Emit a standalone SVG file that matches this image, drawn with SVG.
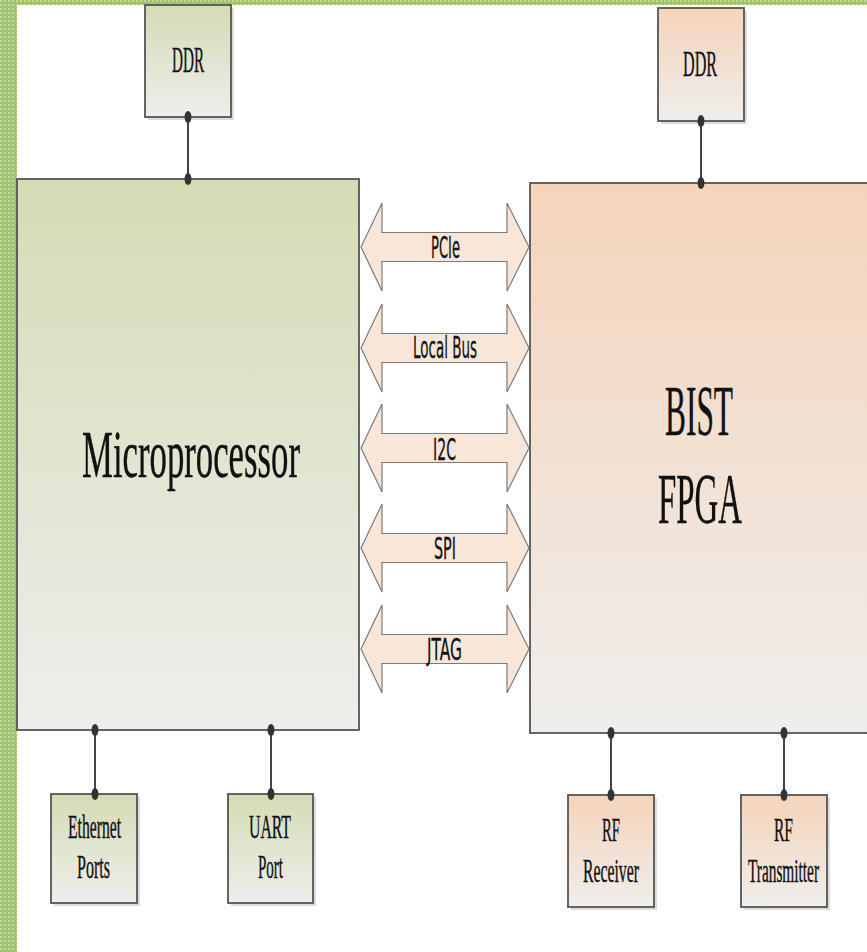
<svg xmlns="http://www.w3.org/2000/svg" width="867" height="952" viewBox="0 0 867 952">
<style>
.box{stroke:#555;stroke-width:1.8}
.shadow{fill:#dcdcdc}
.link{stroke:#444;stroke-width:2;fill:none}
.dot{fill:#333}
.bus{fill:#f8e6d9;stroke:#7a7a7a;stroke-width:1.2}
.serif{font-family:"Liberation Serif","Times New Roman",serif;fill:#111;stroke:#111;stroke-width:0.4}
.sans{font-family:"DejaVu Sans","Liberation Sans",sans-serif;fill:#111;stroke:#111;stroke-width:0.3;font-size:31px}
</style>
<defs>
<linearGradient id="gGreen" x1="0" y1="0" x2="0" y2="1">
<stop offset="0" stop-color="#d3dcb4"/>
<stop offset="1" stop-color="#eeeeec"/>
</linearGradient>
<linearGradient id="gPeach" x1="0" y1="0" x2="0" y2="1">
<stop offset="0" stop-color="#f5d4ba"/>
<stop offset="1" stop-color="#efeeec"/>
</linearGradient>
<pattern id="grid" width="4" height="4" patternUnits="userSpaceOnUse">
<rect width="4" height="4" fill="#a2c272"/>
<rect width="2" height="2" fill="#c0d89a"/>
</pattern>
</defs>
<rect width="867" height="952" fill="#ffffff"/>
<rect x="0" y="0" width="867" height="5" fill="url(#grid)"/>
<rect x="0" y="0" width="17" height="952" fill="url(#grid)"/>

<g id="ddr-left">
<rect class="shadow" x="148" y="8" width="86" height="112"/>
<rect class="box" x="145" y="5" width="86" height="112" fill="url(#gGreen)"/>
<text class="serif" x="172" y="72" font-size="35" textLength="32" lengthAdjust="spacingAndGlyphs">DDR</text>
</g>
<g id="microprocessor">
<rect class="box" x="17" y="179" width="342" height="551" fill="url(#gGreen)"/>
<text class="serif" x="82" y="477" font-size="67" textLength="218" lengthAdjust="spacingAndGlyphs">Microprocessor</text>
</g>
<g id="ddr-right">
<rect class="shadow" x="661" y="11" width="86" height="113"/>
<rect class="box" x="658" y="8" width="86" height="113" fill="url(#gPeach)"/>
<text class="serif" x="683" y="76" font-size="35" textLength="34" lengthAdjust="spacingAndGlyphs">DDR</text>
</g>
<g id="fpga">
<rect class="box" x="530" y="183" width="345" height="550" fill="url(#gPeach)"/>
<text class="serif" x="665" y="435" font-size="71" textLength="68" lengthAdjust="spacingAndGlyphs">BIST</text>
<text class="serif" x="658" y="523" font-size="72" textLength="84" lengthAdjust="spacingAndGlyphs">FPGA</text>
</g>
<g id="ethernet">
<rect class="shadow" x="54" y="797" width="86" height="109"/>
<rect class="box" x="51" y="794" width="86" height="109" fill="url(#gGreen)"/>
<text class="serif" x="68" y="838" font-size="33" textLength="53" lengthAdjust="spacingAndGlyphs">Ethernet</text>
<text class="serif" x="77" y="878" font-size="33" textLength="33" lengthAdjust="spacingAndGlyphs">Ports</text>
</g>
<g id="uart">
<rect class="shadow" x="231" y="797" width="85" height="109"/>
<rect class="box" x="228" y="794" width="85" height="109" fill="url(#gGreen)"/>
<text class="serif" x="249" y="838" font-size="33" textLength="42" lengthAdjust="spacingAndGlyphs">UART</text>
<text class="serif" x="258" y="878" font-size="33" textLength="25" lengthAdjust="spacingAndGlyphs">Port</text>
</g>
<g id="rf-receiver">
<rect class="shadow" x="571" y="798" width="86" height="112"/>
<rect class="box" x="568" y="795" width="86" height="112" fill="url(#gPeach)"/>
<text class="serif" x="602" y="841" font-size="33" textLength="18" lengthAdjust="spacingAndGlyphs">RF</text>
<text class="serif" x="583" y="882" font-size="33" textLength="56" lengthAdjust="spacingAndGlyphs">Receiver</text>
</g>
<g id="rf-transmitter">
<rect class="shadow" x="744" y="798" width="86" height="112"/>
<rect class="box" x="741" y="795" width="86" height="112" fill="url(#gPeach)"/>
<text class="serif" x="774" y="841" font-size="33" textLength="19" lengthAdjust="spacingAndGlyphs">RF</text>
<text class="serif" x="748" y="882" font-size="33" textLength="71" lengthAdjust="spacingAndGlyphs">Transmitter</text>
</g>

<g id="connectors">
<g id="links">
<line class="link" x1="188" y1="117" x2="188" y2="179"/>
<ellipse class="dot" cx="188" cy="117" rx="3.5" ry="6"/>
<ellipse class="dot" cx="188" cy="179" rx="3.5" ry="6"/>
<line class="link" x1="701" y1="121" x2="701" y2="183"/>
<ellipse class="dot" cx="701" cy="121" rx="3.5" ry="6"/>
<ellipse class="dot" cx="701" cy="183" rx="3.5" ry="6"/>
<line class="link" x1="95" y1="730" x2="95" y2="794"/>
<ellipse class="dot" cx="95" cy="730" rx="3.5" ry="6"/>
<ellipse class="dot" cx="95" cy="794" rx="3.5" ry="6"/>
<line class="link" x1="271" y1="730" x2="271" y2="794"/>
<ellipse class="dot" cx="271" cy="730" rx="3.5" ry="6"/>
<ellipse class="dot" cx="271" cy="794" rx="3.5" ry="6"/>
<line class="link" x1="611" y1="733" x2="611" y2="795"/>
<ellipse class="dot" cx="611" cy="733" rx="3.5" ry="6"/>
<ellipse class="dot" cx="611" cy="795" rx="3.5" ry="6"/>
<line class="link" x1="784" y1="733" x2="784" y2="795"/>
<ellipse class="dot" cx="784" cy="733" rx="3.5" ry="6"/>
<ellipse class="dot" cx="784" cy="795" rx="3.5" ry="6"/>
</g>
<g id="buses">
<g id="bus-pcie" transform="translate(0,247)">
<path class="bus" d="M361,0 L382,-44 L382,-14.5 L507,-14.5 L507,-44 L529,0 L507,44 L507,14.5 L382,14.5 L382,44 Z"/>
<text class="sans" x="431" y="11" textLength="29" lengthAdjust="spacingAndGlyphs">PCIe</text>
</g>
<g id="bus-localbus" transform="translate(0,348)">
<path class="bus" d="M361,0 L382,-44 L382,-14.5 L507,-14.5 L507,-44 L529,0 L507,44 L507,14.5 L382,14.5 L382,44 Z"/>
<text class="sans" x="413" y="10" font-size="29" textLength="64" lengthAdjust="spacingAndGlyphs">Local Bus</text>
</g>
<g id="bus-i2c" transform="translate(0,448)">
<path class="bus" d="M361,0 L382,-44 L382,-14.5 L507,-14.5 L507,-44 L529,0 L507,44 L507,14.5 L382,14.5 L382,44 Z"/>
<text class="sans" x="433" y="12" textLength="23" lengthAdjust="spacingAndGlyphs">I2C</text>
</g>
<g id="bus-spi" transform="translate(0,548)">
<path class="bus" d="M361,0 L382,-44 L382,-14.5 L507,-14.5 L507,-44 L529,0 L507,44 L507,14.5 L382,14.5 L382,44 Z"/>
<text class="sans" x="434" y="11" textLength="22" lengthAdjust="spacingAndGlyphs">SPI</text>
</g>
<g id="bus-jtag" transform="translate(0,649)">
<path class="bus" d="M361,0 L382,-44 L382,-14.5 L507,-14.5 L507,-44 L529,0 L507,44 L507,14.5 L382,14.5 L382,44 Z"/>
<text class="sans" x="427" y="11" textLength="35" lengthAdjust="spacingAndGlyphs">JTAG</text>
</g>
</g>
</g>
</svg>
